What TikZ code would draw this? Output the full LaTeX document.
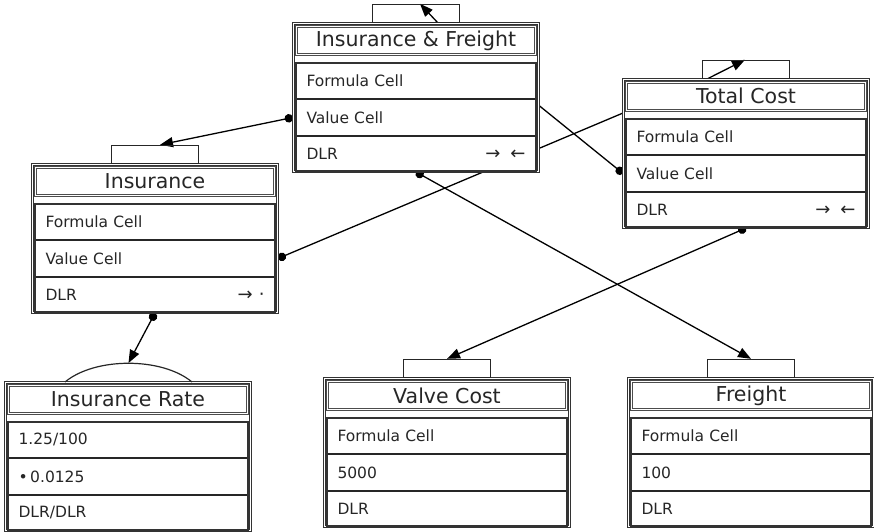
\documentclass[tikz,border=0pt]{standalone}
\usepackage{fontspec}
\setmainfont{DejaVu Sans}
\usetikzlibrary{arrows.meta}
\usetikzlibrary{positioning}
\usetikzlibrary{calc}
\pgfdeclarelayer{bg}
\pgfsetlayers{bg,main}
\tikzset{
      frame/.style={draw=black!80, double=white, double distance=1.2pt, line width=1pt, fill=white,
            minimum width=245pt, minimum height=148pt, inner sep=0pt, anchor=north west},
      titlebar/.style={draw=black!70, double=white, double distance=1pt, line width=0.7pt, text=black!85,
            minimum width=239pt, minimum height=28pt, inner sep=0pt, font=\fontsize{20.5}{22}\selectfont},
      cell/.style={draw=black!85, line width=1.2pt, minimum height=35.3pt, inner xsep=10pt, inner ysep=0pt,
            text width=219pt, align=left, text=black!85, font=\fontsize{15.5}{17}\selectfont},
      tab/.style={draw=black!85, line width=1.2pt, minimum width=87pt, minimum height=18pt, inner sep=0pt},
      link/.style={draw=black, line width=1.3pt, {Circle[length=8.5pt]}-{Triangle[length=13pt,width=10pt]}},
      selflink/.style={draw=black, line width=1.3pt, -{Triangle[length=13pt,width=10pt]}},
      plainlink/.style={draw=black, line width=1.3pt},
}
% one spreadsheet object: name, x, y, title, three rows
\newcommand{\sheet}[7]{%
      \node[frame] (#1) at (#2,#3) {};
      \node[titlebar, below=3pt of #1.north] (#1-t) {#4};
      \node[cell, below=8pt of #1-t] (#1-f) {#5};
      \node[cell, below=0pt of #1-f] (#1-v) {#6};
      \node[cell, below=0pt of #1-v] (#1-d) {#7};
      \draw[line width=1.6pt, draw=black!80] (#1-f.north west) rectangle (#1-d.south east);
}
\newcommand{\inout}{\hspace{0pt plus 1fill}{\fontsize{18}{18}\selectfont →\hspace{10pt}←}}

\begin{document}
\begin{tikzpicture}[x=1pt, y=-1pt]
        \useasboundingbox (0,0) rectangle (874,531);

        % Draw the sheets
        \sheet{ifr}{293}{23}{Insurance \& Freight}{Formula Cell}{Value Cell}{DLR\inout}
        \sheet{tc}{623}{79}{Total Cost}{Formula Cell}{Value Cell}{DLR\inout}
        \sheet{ins}{32}{164}{Insurance}{Formula Cell}{Value Cell}%
              {DLR\hspace{0pt plus 1fill}{\fontsize{18}{18}\selectfont →\hspace{6pt}·}\hspace{5pt}}
        \sheet{ir}{5}{382}{Insurance Rate}{1.25/100}{•\,0.0125}{DLR/DLR}
        \sheet{vc}{324}{378}{Valve Cost}{Formula Cell}{5000}{DLR}
        \sheet{fr}{628}{378}{Freight}{Formula Cell}{100}{DLR}

        \node[tab, above=0pt of ifr] (ifr-tab) {};
        \node[tab, above=0pt of tc] (tc-tab) {};
        \node[tab, above=0pt of ins] (ins-tab) {};
        \node[tab, above=0pt of vc] (vc-tab) {};
        \node[tab, above=0pt of fr] (fr-tab) {};

        \coordinate (ir-top) at ($(ir.north west)+(123.5,-19)$);
        \draw[line width=1.2pt, draw=black!85] ($(ir.north west)+(60,0)$)
              .. controls ($(ir.north west)+(90,-25)$) and ($(ir.north west)+(157,-25)$) .. ($(ir.north west)+(187,0)$);

        \coordinate (ifr-out) at ($(ifr.east)+(0,8)$);
        \coordinate (tc-in) at ($(tc.north west)+(0,34)$);

        % Draw the links
        \begin{pgfonlayer}{bg}
        \draw[selflink] ($(ifr-tab.south)+(22,0)$) -- ($(ifr-tab.north)+(4,0)$);
        \draw[selflink] ($(tc-tab.south)+(-39,0)$) -- ($(tc-tab.north)+(-1,0)$);
        \draw[link] (ifr.west |- ifr-v.center) -- ($(ins-tab.north)+(5,0)$);
        \draw[link] (ifr.south) -- (fr-tab.north);
        \draw[link] (tc.south) -- (vc-tab.north);
        \draw[link] (ins.south) -- (ir-top);
        \draw[plainlink, {Circle[length=8.5pt]}-] (ins.east |- ins-v.center) -- (tc-in);
        \draw[plainlink, -{Circle[length=8.5pt]}] (ifr-out) -- (tc.west |- tc-v.center);
        \end{pgfonlayer}

    \end{tikzpicture}
\end{document}
